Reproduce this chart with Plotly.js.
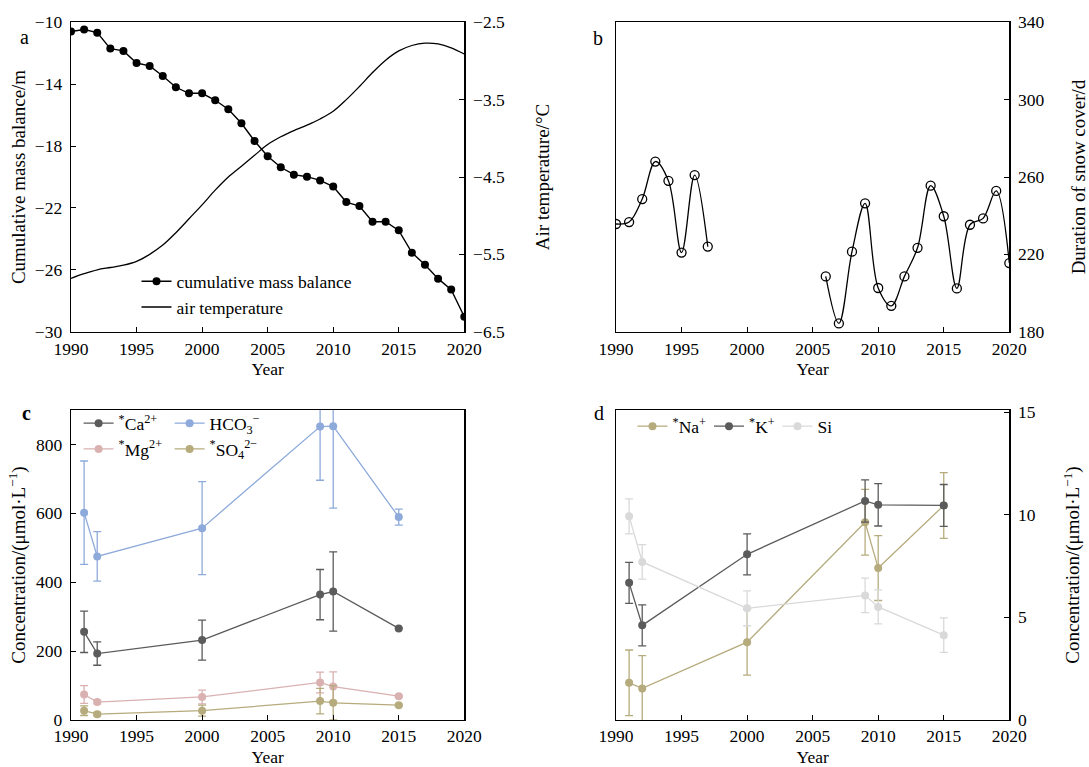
<!DOCTYPE html>
<html><head><meta charset="utf-8">
<script src="https://cdn.plot.ly/plotly-3.0.1.min.js"></script>
<style>html,body{margin:0;padding:0;background:#fff}#chart{width:1089px;height:767px}</style>
</head><body><div id="chart"></div>
<script>
// Panel a
const years = [1990,1991,1992,1993,1994,1995,1996,1997,1998,1999,2000,2001,2002,2003,2004,2005,2006,2007,2008,2009,2010,2011,2012,2013,2014,2015,2016,2017,2018,2019,2020];
const massBalance = [-10.6,-10.47,-10.67,-11.7,-11.85,-12.63,-12.82,-13.47,-14.2,-14.59,-14.59,-15.04,-15.62,-16.53,-17.67,-18.66,-19.37,-19.85,-19.98,-20.22,-20.62,-21.62,-21.88,-22.89,-22.89,-23.45,-24.89,-25.67,-26.57,-27.28,-29.03];
const airTemp = [-5.81,-5.75,-5.70,-5.67,-5.64,-5.59,-5.50,-5.38,-5.22,-5.04,-4.86,-4.67,-4.50,-4.36,-4.22,-4.08,-3.98,-3.90,-3.83,-3.75,-3.65,-3.50,-3.33,-3.15,-2.99,-2.87,-2.80,-2.77,-2.78,-2.83,-2.91];
// Panel b
const snowDays = [235.7,236.7,248.6,268.0,258.0,220.9,261.0,224.0,null,null,null,null,null,null,null,null,208.6,184.3,221.4,246.4,202.6,193.4,208.6,223.4,255.5,239.7,202.4,235.3,238.6,252.8,215.5];
// Panel c
const chemYears = [1991,1992,2000,2009,2010,2015];
const ca = [256,193,232,364,373,266];
const caErr = [60,34,58,73,115,0];
const hco3 = [602,475,557,852,853,589];
const hco3Err = [150,72,135,156,238,23];
const mg = [74,52,67,109,97,69];
const mgErr = [26,5,20,30,43,3];
const so4 = [27,17,27,55,50,43];
const so4Err = [14,5,16,37,50,3];
// Panel d
const na = [1.81,1.54,3.79,9.63,7.40,10.45];
const naErr = [1.6,1.6,1.6,1.6,1.58,1.6];
const k = [6.68,4.61,8.07,10.67,10.48,10.45];
const kErr = [1.0,1.0,1.0,1.03,1.03,1.02];
const si = [9.92,7.70,5.44,6.07,5.51,4.13];
const siErr = [0.85,0.84,0.85,0.84,0.83,0.84];

const FONT = 'Liberation Serif';
const cCa = '#5b5b5b', cHco3 = '#8eaadb', cMg = '#d9b1b1', cSo4 = '#b6ab7d';
const cNa = '#b6ab7d', cK = '#5b5b5b', cSi = '#d9d9d9';

function chem(name, x, y, err, color, xa, ya, leg) {
  return {x: x, y: y, name: name, type: 'scatter', mode: 'lines+markers', xaxis: xa, yaxis: ya, legend: leg,
    line: {color: color, width: 1.3}, marker: {color: color, size: 8},
    error_y: {type: 'data', array: err, visible: true, color: color, thickness: 1.3, width: 4}};
}

const traces = [
  {x: years, y: massBalance, name: 'cumulative mass balance', type: 'scatter', mode: 'lines+markers',
   xaxis: 'x', yaxis: 'y', legend: 'legend', line: {color: '#000', width: 1.4}, marker: {color: '#000', size: 8}},
  {x: years, y: airTemp, name: 'air temperature', type: 'scatter', mode: 'lines',
   xaxis: 'x', yaxis: 'y2', legend: 'legend', line: {color: '#000', width: 1.3, shape: 'spline', smoothing: 1}},
  {x: years, y: snowDays, name: 'snow', type: 'scatter', mode: 'lines+markers', showlegend: false,
   xaxis: 'x2', yaxis: 'y3', connectgaps: false, line: {color: '#000', width: 1.3, shape: 'spline', smoothing: 1},
   marker: {symbol: 'circle-open', color: '#000', size: 9, line: {width: 1.3}}},
  chem('<sup>*</sup>Ca<sup>2+</sup>', chemYears, ca, caErr, cCa, 'x3', 'y4', 'legend2'),
  chem('HCO<sub>3</sub><sup>−</sup>', chemYears, hco3, hco3Err, cHco3, 'x3', 'y4', 'legend3'),
  chem('<sup>*</sup>Mg<sup>2+</sup>', chemYears, mg, mgErr, cMg, 'x3', 'y4', 'legend2'),
  chem('<sup>*</sup>SO<sub>4</sub><sup>2−</sup>', chemYears, so4, so4Err, cSo4, 'x3', 'y4', 'legend3'),
  chem('<sup>*</sup>Na<sup>+</sup>', chemYears, na, naErr, cNa, 'x4', 'y5', 'legend4'),
  chem('<sup>*</sup>K<sup>+</sup>', chemYears, k, kErr, cK, 'x4', 'y5', 'legend5'),
  chem('Si', chemYears, si, siErr, cSi, 'x4', 'y5', 'legend6')
];

const W = 1089, H = 767;
const px = v => v / W, py = v => 1 - v / H;
const dxL = [px(71), px(464.3)], dxR = [px(616), px(1009.3)];
const dyT = [py(331.7), py(22.3)], dyB = [py(720), py(410)];
const tickF = {family: FONT, size: 17.5, color: '#000'};
const titleF = {family: FONT, size: 19, color: '#000'};
const legF = {family: FONT, size: 17.5, color: '#000'};

function xax(domain, anchor, lso, so) {
  return {domain: domain, anchor: anchor, range: [1990, 2020], tick0: 1990, dtick: 5, ticks: 'inside', ticklen: 5,
    tickcolor: '#000', showline: true, linecolor: '#000', linewidth: 1.3, mirror: true, showgrid: false, zeroline: false,
    tickfont: tickF, ticklabelstandoff: lso, title: {text: 'Year', font: {family: FONT, size: 17.5, color: '#000'}, standoff: so}};
}
function yax(opts) {
  return Object.assign({ticks: 'inside', ticklen: 5, tickcolor: '#000', showline: true, linecolor: '#000', linewidth: 1.3,
    showgrid: false, zeroline: false, tickfont: tickF, ticklabelstandoff: 4}, opts);
}
function leg(left, top) {
  return {x: px(left), y: py(top), xanchor: 'left', yanchor: 'top', bgcolor: 'rgba(0,0,0,0)', font: legF, traceorder: 'normal'};
}

const layout = {
  width: W, height: H, margin: {l: 0, r: 0, t: 0, b: 0}, paper_bgcolor: '#fff', plot_bgcolor: 'rgba(0,0,0,0)',
  font: {family: FONT, color: '#000'},
  xaxis: xax(dxL, 'y', 1, 4),
  yaxis: yax({domain: dyT, anchor: 'x', range: [-30, -10], tick0: -30, dtick: 4,
    title: {text: 'Cumulative mass balance/m', font: titleF, standoff: 4}}),
  yaxis2: yax({overlaying: 'y', anchor: 'x', side: 'right', range: [-6.5, -2.5], tick0: -6.5, dtick: 1, tickformat: '.1f',
    title: {text: 'Air temperature/°C', font: titleF, standoff: 31}}),
  xaxis2: xax(dxR, 'y3', 1, 4),
  yaxis3: yax({domain: dyT, anchor: 'x2', side: 'right', mirror: true, range: [180, 340], tick0: 180, dtick: 40,
    title: {text: 'Duration of snow cover/d', font: titleF, standoff: 29}}),
  xaxis3: xax(dxL, 'y4', 0, 5),
  yaxis4: yax({domain: dyB, anchor: 'x3', mirror: true, range: [0, 900], tick0: 0, dtick: 200,
    title: {text: 'Concentration/(μmol·L<sup>−1</sup>)', font: titleF, standoff: 5}}),
  xaxis4: xax(dxR, 'y5', 0, 5),
  yaxis5: yax({domain: dyB, anchor: 'x4', side: 'right', mirror: true, range: [0, 15.1], tick0: 0, dtick: 5,
    title: {text: 'Concentration/(μmol·L<sup>−1</sup>)', font: titleF, standoff: 31}}),
  legend: leg(136.5, 263.4),
  legend2: leg(78.6, 405.3),
  legend3: leg(169.6, 405.3),
  legend4: leg(632.5, 408.3),
  legend5: leg(709, 408.3),
  legend6: leg(777.5, 408.3),
  annotations: [
    {text: 'a', x: px(18.3), y: py(24), xref: 'paper', yref: 'paper', showarrow: false, font: {family: FONT, size: 20, color: '#000'}},
    {text: 'b', x: px(598.3), y: py(25), xref: 'paper', yref: 'paper', showarrow: false, font: {family: FONT, size: 20, color: '#000'}},
    {text: '<b>c</b>', x: px(20), y: py(412.7), xref: 'paper', yref: 'paper', showarrow: false, font: {family: FONT, size: 20, color: '#000'}},
    {text: 'd', x: px(599.3), y: py(413.3), xref: 'paper', yref: 'paper', showarrow: false, font: {family: FONT, size: 20, color: '#000'}}
  ]
};

Plotly.newPlot('chart', traces, layout, {displayModeBar: false, staticPlot: true});
</script>
</body></html>
